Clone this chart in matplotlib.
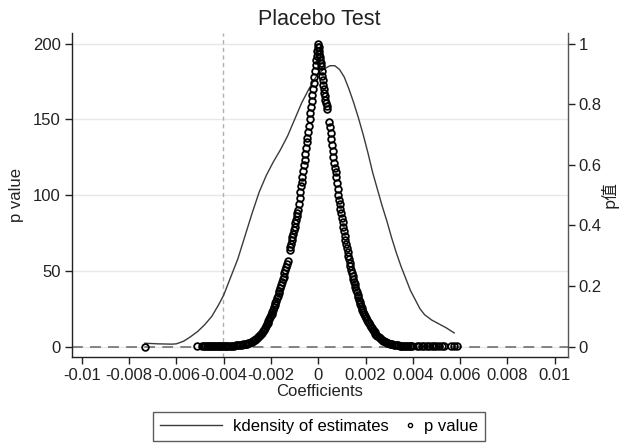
import matplotlib
matplotlib.use("Agg")
import matplotlib.pyplot as plt
from matplotlib.lines import Line2D
from matplotlib.legend_handler import HandlerLine2D

plt.rcParams['font.family'] = ['Liberation Sans', 'DejaVu Sans']

# kdensity of the placebo estimates (left axis)
kd_coef = [-0.00733, -0.0068, -0.0062, -0.0060, -0.0057, -0.0054, -0.0051, -0.0048,
           -0.0045, -0.0042, -0.0040, -0.0037, -0.0034, -0.0031, -0.0028, -0.0025,
           -0.0022, -0.0019, -0.0016, -0.0013, -0.0010, -0.0007, -0.0004, -0.0001,
           0.0002, 0.0005, 0.0007, 0.0009, 0.0011, 0.0013, 0.0015, 0.0017, 0.0019,
           0.0021, 0.0023, 0.0025, 0.0027, 0.0029, 0.0031, 0.0033, 0.0035, 0.0037,
           0.0039, 0.0041, 0.0043, 0.0045, 0.0048, 0.0051, 0.0054, 0.00575]
kd_dens = [2.2, 1.8, 1.6, 1.8, 3.5, 6.5, 10, 14.5,
           20, 28, 34, 46, 58, 73, 88, 102,
           113, 122, 130, 139, 150, 161, 170, 178,
           183, 185.5, 185.5, 183, 178, 170, 161, 151, 140,
           128, 115, 104, 93, 83, 72, 62, 53, 45,
           37, 31, 25, 21, 17.5, 15, 12.5, 9]

# placebo coefficients below zero and their p values (right axis)
coef_neg = [-0.00733, -0.00514, -0.00490, -0.00484, -0.00478, -0.00472, -0.00466, -0.00461,
            -0.00455, -0.00449, -0.00444, -0.00438, -0.00432, -0.00426, -0.00420, -0.00414,
            -0.00408, -0.00402, -0.00396, -0.00390, -0.00384, -0.00377, -0.00370, -0.00363,
            -0.00356, -0.00349, -0.00342, -0.00335, -0.00329, -0.00323, -0.00317, -0.00311,
            -0.00306, -0.00301, -0.00296, -0.00291, -0.00286, -0.00281, -0.00276, -0.00271,
            -0.00266, -0.00262, -0.00258, -0.00254, -0.00250, -0.00246, -0.00242, -0.00238,
            -0.00234, -0.00230, -0.00226, -0.00222, -0.00218, -0.00214, -0.00211, -0.00207,
            -0.00204, -0.00200, -0.00197, -0.00194, -0.00190, -0.00187, -0.00184, -0.00181,
            -0.00177, -0.00174, -0.00171, -0.00167, -0.00164, -0.00160, -0.00157, -0.00153,
            -0.00150, -0.00147, -0.00143, -0.00139, -0.00136, -0.00133, -0.00130,
            -0.00121, -0.00118, -0.00115, -0.00112, -0.00109, -0.00106, -0.00103, -0.00100,
            -0.00097, -0.00094, -0.00091, -0.00088, -0.00085, -0.00082, -0.00079, -0.00076,
            -0.00073, -0.00070, -0.00067, -0.00064, -0.00061, -0.00058, -0.00055, -0.00052,
            -0.00049, -0.00046, -0.00043, -0.00040, -0.00037, -0.00034, -0.00031, -0.00028,
            -0.00025, -0.00022, -0.00019, -0.00016, -0.00013, -0.00010, -0.00008, -0.00006,
            -0.00004, -0.00002, 0.0]
p_neg = [0.0, 0.0002, 0.0002, 0.0003, 0.0003, 0.0004, 0.0004, 0.0005,
         0.0005, 0.0006, 0.0007, 0.0008, 0.0009, 0.0010, 0.0011, 0.0012,
         0.0014, 0.0015, 0.0017, 0.0019, 0.0021, 0.0023, 0.0026, 0.0029,
         0.0033, 0.0037, 0.0042, 0.0048, 0.0054, 0.0061, 0.0069, 0.0078,
         0.0088, 0.0099, 0.0112, 0.0126, 0.0142, 0.0160, 0.0180, 0.0202,
         0.0226, 0.0252, 0.028, 0.031, 0.034, 0.038, 0.042, 0.046,
         0.051, 0.056, 0.061, 0.067, 0.073, 0.079, 0.085, 0.091,
         0.097, 0.103, 0.109, 0.115, 0.122, 0.129, 0.136, 0.143,
         0.151, 0.159, 0.167, 0.176, 0.185, 0.194, 0.203, 0.213,
         0.222, 0.231, 0.242, 0.253, 0.263, 0.274, 0.284,
         0.318, 0.329, 0.340, 0.351, 0.362, 0.373, 0.385, 0.396,
         0.407, 0.419, 0.430, 0.440, 0.450, 0.470, 0.490, 0.510,
         0.530, 0.545, 0.560, 0.580, 0.600, 0.615, 0.635, 0.655,
         0.675, 0.690, 0.710, 0.730, 0.750, 0.770, 0.790, 0.810,
         0.830, 0.850, 0.870, 0.890, 0.910, 0.930, 0.945, 0.960,
         0.975, 0.988, 0.998]

# placebo coefficients above zero and their p values (right axis)
coef_pos = [0.00001, 0.00003, 0.00005, 0.00007, 0.00009, 0.00011, 0.00013, 0.00015,
            0.00017, 0.00019, 0.00021, 0.00023, 0.00025, 0.00027, 0.00030, 0.00033,
            0.00036, 0.00039,
            0.00046, 0.00049, 0.00052, 0.00055, 0.00058, 0.00061, 0.00064, 0.00067,
            0.00070, 0.00073, 0.00076, 0.00079, 0.00082, 0.00085, 0.00088, 0.00091,
            0.00094, 0.00097, 0.00100, 0.00103, 0.00106, 0.00109, 0.00112, 0.00115,
            0.00118, 0.00121, 0.00124, 0.00127, 0.00130, 0.00133, 0.00136, 0.00139,
            0.00142, 0.00145, 0.00148, 0.00151, 0.00154, 0.00157, 0.00160, 0.00163,
            0.00166, 0.00169, 0.00172, 0.00175, 0.00178, 0.00181, 0.00184, 0.00187,
            0.00190, 0.00194, 0.00198, 0.00202, 0.00206, 0.00210, 0.00214, 0.00218,
            0.00222, 0.00226, 0.00230, 0.00234, 0.00238, 0.00242, 0.00246, 0.00250,
            0.00255, 0.00260, 0.00265, 0.00270, 0.00275, 0.00280, 0.00285, 0.00290,
            0.00296, 0.00302, 0.00308, 0.00314, 0.00320, 0.00326, 0.00332, 0.00338,
            0.00344, 0.00350, 0.00356, 0.00362, 0.00368, 0.00374, 0.00380, 0.00386,
            0.00392, 0.00396,
            0.00416, 0.00427, 0.00437, 0.00448, 0.00458, 0.00469, 0.00479, 0.00490,
            0.00500, 0.00512, 0.00522, 0.00532, 0.00560, 0.00574, 0.00585]
p_pos = [0.990, 0.975, 0.965, 0.955, 0.945, 0.935, 0.925, 0.910,
         0.895, 0.880, 0.865, 0.850, 0.838, 0.826, 0.815, 0.805,
         0.795, 0.785,
         0.740, 0.725, 0.705, 0.685, 0.665, 0.645, 0.625, 0.605,
         0.590, 0.575, 0.560, 0.540, 0.520, 0.500, 0.485, 0.470,
         0.455, 0.440, 0.425, 0.410, 0.395, 0.380, 0.366, 0.352,
         0.338, 0.325, 0.312, 0.300, 0.288, 0.276, 0.265, 0.254,
         0.243, 0.233, 0.223, 0.214, 0.205, 0.196, 0.187, 0.179,
         0.171, 0.163, 0.155, 0.148, 0.141, 0.134, 0.127, 0.121,
         0.115, 0.108, 0.101, 0.094, 0.088, 0.082, 0.077, 0.072,
         0.066, 0.061, 0.056, 0.051, 0.047, 0.043, 0.039, 0.035,
         0.031, 0.028, 0.025, 0.022, 0.019, 0.017, 0.015, 0.013,
         0.011, 0.0095, 0.008, 0.007, 0.006, 0.005, 0.0043, 0.0037,
         0.0031, 0.0026, 0.0022, 0.0018, 0.0015, 0.0012, 0.0010, 0.0008,
         0.0006, 0.0005,
         0.0002, 0.0002, 0.0002, 0.0002, 0.0002, 0.0002, 0.0002, 0.0002,
         0.0002, 0.0002, 0.0002, 0.0002, 0.0002, 0.0002, 0.0002]

true_coef = -0.00403
xticks = [-0.01, -0.008, -0.006, -0.004, -0.002, 0, 0.002, 0.004, 0.006, 0.008, 0.01]
xtick_labels = ['-0.01', '-0.008', '-0.006', '-0.004', '-0.002', '0',
                '0.002', '0.004', '0.006', '0.008', '0.01']
yticks_left = [0, 50, 100, 150, 200]
yticks_right = [0, 0.2, 0.4, 0.6, 0.8, 1]
ytick_right_labels = ['0', '0.2', '0.4', '0.6', '0.8', '1']


# legend handler: single marker sitting at the right end of the handle box
class MarkerRight(HandlerLine2D):
    def create_artists(self, legend, orig_handle, xdescent, ydescent,
                       width, height, fontsize, trans):
        x = -xdescent + width - 0.2 * fontsize
        y = (height - ydescent) / 2
        mark = Line2D([x], [y])
        self.update_prop(mark, orig_handle, legend)
        mark.set_transform(trans)
        return [mark]


fig = plt.figure(figsize=(6.19, 4.43), dpi=100)
ax = fig.add_axes([0.1158, 0.1948, 0.8013, 0.7300])
ax2 = ax.twinx()

ax.set_xlim(-0.01043, 0.01055)
ax.set_ylim(-6.7, 206.9)
ax2.set_ylim(-6.7 / 200, 206.9 / 200)

ax.set_yticks(yticks_left)
ax.yaxis.grid(True, color='#e8e8e8', lw=1.0)
ax.set_axisbelow(True)

ax.axhline(0, color='#7a7a7a', lw=1.3, ls=(0, (6, 4)), zorder=1)
ax.axvline(true_coef, color='#b0b0b0', lw=1.0, ls=(0, (3, 2.5)), zorder=1)

kd_line, = ax.plot(kd_coef, kd_dens, color='#3a3a3a', lw=1.0, zorder=2)
ax2.plot(coef_neg + coef_pos, p_neg + p_pos, ls='none', marker='o', ms=4.8,
         mfc='none', mec='black', mew=1.3)

ax.set_xticks(xticks)
ax.set_xticklabels(xtick_labels)
ax2.set_yticks(yticks_right)
ax2.set_yticklabels(ytick_right_labels)

for a in (ax, ax2):
    a.spines['top'].set_visible(False)
    a.tick_params(direction='out', length=5, width=1, labelsize=12, pad=3, colors='#222222')
ax.spines['right'].set_visible(False)
ax2.spines['left'].set_visible(False)
ax2.spines['bottom'].set_visible(False)
ax.spines['left'].set_color('#222222')
ax.spines['bottom'].set_color('#222222')
ax2.spines['right'].set_color('#555555')
for s in ('left', 'bottom'):
    ax.spines[s].set_linewidth(1.0)
ax2.spines['right'].set_linewidth(1.0)

ax.set_title('Placebo Test', fontsize=15.5, pad=6, color='#222222')
ax.set_xlabel('Coefficients', fontsize=12, labelpad=1, color='#222222')
ax.set_ylabel('p value', fontsize=12, color='#222222')
ax.yaxis.set_label_coords(-0.096, 0.5)
ax2.set_ylabel('p值', fontsize=12, color='#222222',
               family=['Noto Sans CJK SC', 'DejaVu Sans'])
ax2.yaxis.set_label_coords(1.066, 0.5)

p_handle = Line2D([], [], ls='none', marker='o', ms=3, mfc='none', mec='black', mew=1.0)
leg = fig.legend([kd_line, p_handle], ['kdensity of estimates', 'p value'],
                 handler_map={p_handle: MarkerRight()},
                 loc='center', bbox_to_anchor=(0.5157, 0.0377), ncol=2,
                 frameon=True, fancybox=False, edgecolor='#333333',
                 handlelength=3.7, handletextpad=0.66, columnspacing=-2.2,
                 borderpad=0.42, fontsize=12, borderaxespad=0)
leg.get_frame().set_linewidth(1.0)

fig.savefig('out.png', dpi=100)
